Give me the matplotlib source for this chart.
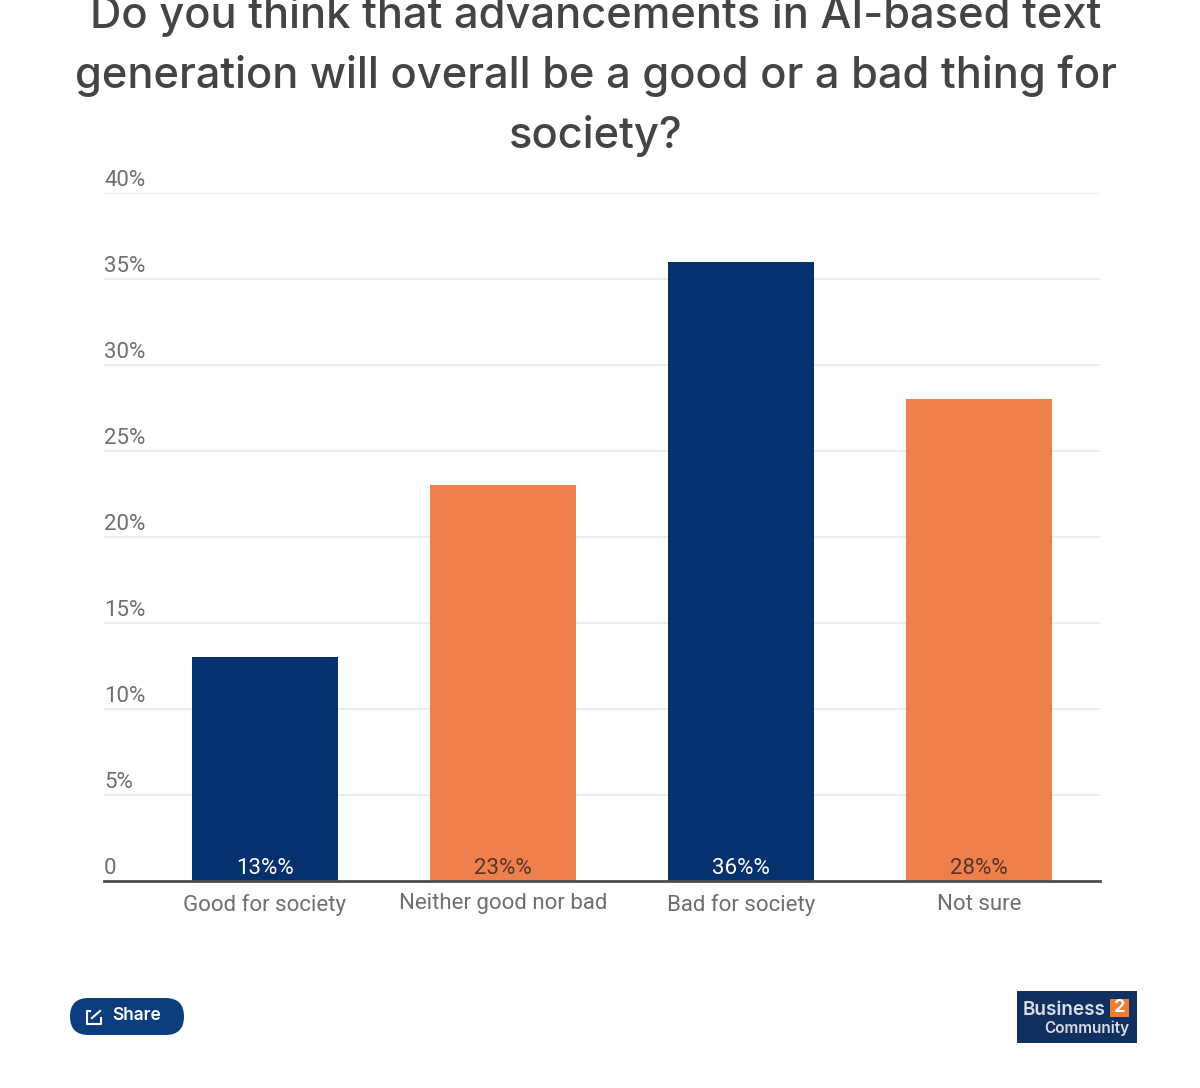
import matplotlib
matplotlib.use("Agg")
import matplotlib.pyplot as plt
from matplotlib.patches import FancyBboxPatch, Rectangle
from matplotlib.transforms import ScaledTranslation

# ── Data ──────────────────────────────────────────────────────────
categories = ["Good for society", "Neither good nor bad", "Bad for society", "Not sure"]
values = [13, 23, 36, 28]
bar_labels = ["13%%", "23%%", "36%%", "28%%"]
y_ticks = [0, 5, 10, 15, 20, 25, 30, 35, 40]
y_tick_labels = ["0", "5%", "10%", "15%", "20%", "25%", "30%", "35%", "40%"]
title = ("Do you think that advancements in AI-based text\n"
         "generation will overall be a good or a bad thing for\n"
         "society?")

# ── Styles ────────────────────────────────────────────────────────
NAVY = "#05326e"
ORANGE = "#ee804d"
GREY = "#6f6f6f"
NARROW = ["Roboto", "DejaVu Sans"]
W, H = 1200, 1088

fig = plt.figure(figsize=(W / 100, H / 100), dpi=100, facecolor="white")
ax = fig.add_axes([104 / W, 1 - 881 / H, 996 / W, 688 / H])

# ── Bars ──────────────────────────────────────────────────────────
x = list(range(len(categories)))
bars = ax.bar(x, values, width=0.613, color=[NAVY, ORANGE, NAVY, ORANGE], zorder=3)
ax.set_xlim(-0.676, 3.508)
ax.set_ylim(0, 40)

for i, label, c in zip(x, bar_labels, ["white", "#5b3423", "white", "#5b3423"]):
    ax.annotate(label, (i, 0), xytext=(0, 13 * 0.72), textcoords="offset points",
                ha="center", va="center", fontsize=16, color=c, family=NARROW, zorder=4)

# ── Axes ──────────────────────────────────────────────────────────
ax.set_xticks(x, categories, fontsize=16, color=GREY, family=NARROW)
ax.set_yticks(y_ticks, y_tick_labels, fontsize=16, color=GREY, family=NARROW)
ax.tick_params(axis="both", length=0)
ax.tick_params(axis="x", pad=9)
ax.tick_params(axis="y", pad=0)
lift = ScaledTranslation(0, 2 / 100, fig.dpi_scale_trans)
for label in ax.get_yticklabels():
    label.set_horizontalalignment("left")
    label.set_verticalalignment("bottom")
    label.set_transform(label.get_transform() + lift)

ax.grid(axis="y", color="#ebebeb", linewidth=1.2, zorder=0)
for side in ["top", "right", "left"]:
    ax.spines[side].set_visible(False)
ax.spines["bottom"].set_color("#4d4d4d")
ax.spines["bottom"].set_linewidth(2)
ax.spines["bottom"].set_zorder(5)

# ── Overlay in pixel coordinates: title, share button, logo ───────
over = fig.add_axes([0, 0, 1, 1], facecolor="none")
over.set_xlim(0, W)
over.set_ylim(H, 0)
over.axis("off")

over.text(596, 76, title, ha="center", va="center", fontsize=31.3, color="#444444",
          family="Inter", fontweight="medium", linespacing=1.546, clip_on=False)

over.add_patch(FancyBboxPatch((70, 998), 114, 37, boxstyle="round,pad=0,rounding_size=18.5",
                              facecolor="#0b3d7f", edgecolor="none"))
over.plot([90, 87, 87, 101, 101], [1011, 1011, 1024, 1024, 1018], color="white", lw=1.5)
over.plot([92, 100], [1018, 1011], color="white", lw=1.5)
over.text(112, 1015, "Share", ha="left", va="center", fontsize=12.5, color="white",
          family="Inter", fontweight="semibold")

over.add_patch(Rectangle((1017, 991), 120, 52, facecolor="#12305f", edgecolor="none"))
over.add_patch(Rectangle((1110, 999), 19, 18, facecolor="#ee7d31", edgecolor="none"))
over.text(1023, 1010, "Business", ha="left", va="center", fontsize=13.6, color="#d7dce6",
          family="Inter", fontweight="semibold")
over.text(1119.5, 1008, "2", ha="center", va="center", fontsize=13, color="white",
          family="Inter", fontweight="bold")
over.text(1129, 1028, "Community", ha="right", va="center", fontsize=11, color="#d7dce6",
          family="Inter", fontweight="semibold")

fig.savefig("out.png", dpi=100)
